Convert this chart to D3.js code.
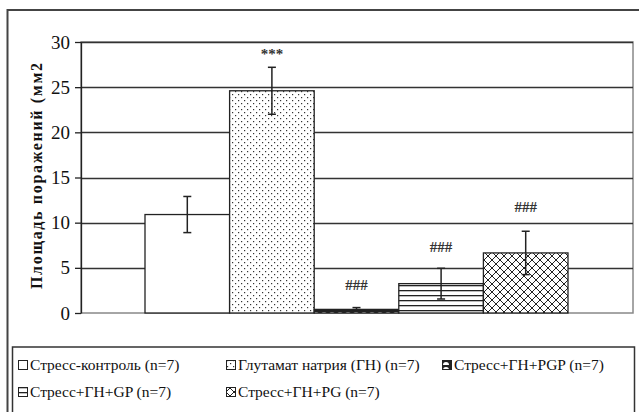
<!DOCTYPE html>
<html><head><meta charset="utf-8">
<script src="https://cdn.jsdelivr.net/npm/d3@7/dist/d3.min.js"></script>
</head><body style="margin:0">
<svg id="c" width="639" height="412" style="display:block;font-family:'Liberation Serif'"></svg>
<script>
const groups = ["Стресс-контроль (n=7)", "Глутамат натрия (ГН) (n=7)", "Стресс+ГН+PGP (n=7)", "Стресс+ГН+GP (n=7)", "Стресс+ГН+PG (n=7)"];
const values = [10.9, 24.6, 0.4, 3.25, 6.65];
const errors = [2.0, 2.6, 0.2, 1.7, 2.4];
const marks = ["", "***", "###", "###", "###"];
const markLevels = [0, 28.7, 3.1, 7.3, 11.8];
const yTicks = [0, 5, 10, 15, 20, 25, 30];
const yTitle = "Площадь поражений (мм2";
const patterns = ["solid", "dots", "scales", "hlines", "cross"];

const chartSvg = d3.select("#c");
const defs = chartSvg.append("defs");

const pd = defs.append("pattern").attr("id","dots").attr("patternUnits","userSpaceOnUse").attr("width",6).attr("height",6);
pd.append("rect").attr("width",6).attr("height",6).attr("fill","#fff");
pd.append("rect").attr("x",1).attr("y",1).attr("width",1.2).attr("height",1.2).attr("fill","#333");
pd.append("rect").attr("x",4).attr("y",4).attr("width",1.2).attr("height",1.2).attr("fill","#333");

const ps = defs.append("pattern").attr("id","scales").attr("patternUnits","userSpaceOnUse").attr("width",8).attr("height",5);
ps.append("rect").attr("width",8).attr("height",5).attr("fill","#222");
ps.append("path").attr("d","M1,5 A3,3 0 0 1 7,5 Z").attr("fill","#fff");

const ph = defs.append("pattern").attr("id","hlines").attr("patternUnits","userSpaceOnUse").attr("width",6).attr("height",5);
ph.append("rect").attr("width",6).attr("height",5).attr("fill","#fff");
ph.append("rect").attr("y",0).attr("width",6).attr("height",1.3).attr("fill","#222");

const pc = defs.append("pattern").attr("id","cross").attr("patternUnits","userSpaceOnUse").attr("width",8).attr("height",8);
pc.append("rect").attr("width",8).attr("height",8).attr("fill","#fff");
pc.append("path").attr("d","M0,0 L8,8 M8,0 L0,8").attr("stroke","#222").attr("stroke-width",1);

function fillFor(p){ return p === "solid" ? "#fff" : "url(#" + p + ")"; }

chartSvg.append("rect").attr("x",7.5).attr("y",10).attr("width",640).attr("height",410)
  .attr("fill","none").attr("stroke","#444").attr("stroke-width",2);

const pL = 81, pR = 633, pT = 42, pB = 313;
const yScale = d3.scaleLinear().domain([0,30]).range([pB, pT]);
const xScale = d3.scaleBand().domain(groups).range([145, 568]).padding(0);

chartSvg.append("rect").attr("x",pL).attr("y",pT).attr("width",pR-pL).attr("height",pB-pT)
  .attr("fill","none").attr("stroke","#888").attr("stroke-width",1.5);

chartSvg.append("g").selectAll("line").data(yTicks.filter(d=>d>0)).join("line")
  .attr("x1",pL).attr("x2",pR).attr("y1",d=>Math.round(yScale(d))+0.5).attr("y2",d=>Math.round(yScale(d))+0.5)
  .attr("stroke","#333").attr("stroke-width",1.3);

const yAxisG = chartSvg.append("g").attr("transform","translate(" + pL + ",0)")
  .call(d3.axisLeft(yScale).tickValues(yTicks).tickSize(6).tickSizeOuter(0).tickPadding(5));
yAxisG.attr("font-family","Liberation Serif").attr("font-size",19);
yAxisG.select(".domain").attr("stroke","#222").attr("stroke-width",1.3);
yAxisG.selectAll(".tick line").attr("stroke","#222").attr("stroke-width",1.3);
yAxisG.selectAll("text").attr("fill","#111");

chartSvg.append("g").selectAll("rect").data(groups).join("rect")
  .attr("x",d=>xScale(d)).attr("width",xScale.bandwidth())
  .attr("y",(d,i)=>yScale(values[i])).attr("height",(d,i)=>yScale(0)-yScale(values[i]))
  .attr("fill",(d,i)=>fillFor(patterns[i])).attr("stroke","#222").attr("stroke-width",1.3);

const eg = chartSvg.append("g").attr("stroke","#222").attr("stroke-width",1.5);
groups.forEach((g,i)=>{
  const cx = xScale(g)+xScale.bandwidth()/2;
  const y1 = yScale(values[i]+errors[i]), y2 = yScale(values[i]-errors[i]);
  eg.append("line").attr("x1",cx).attr("x2",cx).attr("y1",y1).attr("y2",y2);
  eg.append("line").attr("x1",cx-4).attr("x2",cx+4).attr("y1",y1).attr("y2",y1);
  eg.append("line").attr("x1",cx-4).attr("x2",cx+4).attr("y1",y2).attr("y2",y2);
});

chartSvg.append("g").attr("font-family","Liberation Serif").attr("font-size",15).attr("font-weight","bold")
  .selectAll("text").data(groups).join("text")
  .attr("x",d=>xScale(d)+xScale.bandwidth()/2).attr("y",(d,i)=>yScale(markLevels[i]))
  .attr("dy","0.35em").attr("text-anchor","middle").attr("fill","#333")
  .text((d,i)=>marks[i]);

chartSvg.append("text").attr("transform","translate(36,176) rotate(-90)")
  .attr("text-anchor","middle").attr("dy","0.35em")
  .attr("textLength",226).attr("lengthAdjust","spacing")
  .attr("font-family","Liberation Serif").attr("font-weight","bold").attr("font-size",16).attr("fill","#111")
  .text(yTitle);

chartSvg.append("rect").attr("x",12.5).attr("y",347).attr("width",622).attr("height",70)
  .attr("fill","#fff").attr("stroke","#333").attr("stroke-width",1.5);
const legPos = [[18,365],[226,365],[442,365],[18,392],[226,392]];
const lg = chartSvg.append("g").attr("font-family","Liberation Serif").attr("font-size",15.5)
  .selectAll("g").data(groups).join("g")
  .attr("transform",(d,i)=>"translate(" + legPos[i][0] + "," + legPos[i][1] + ")");
lg.append("rect").attr("x",0.5).attr("y",-4.5).attr("width",9).attr("height",9)
  .attr("fill",(d,i)=>fillFor(patterns[i])).attr("stroke","#222").attr("stroke-width",1);
lg.append("text").attr("x",12).attr("dy","0.35em").attr("fill","#111").text(d=>d);
</script>
</body></html>
